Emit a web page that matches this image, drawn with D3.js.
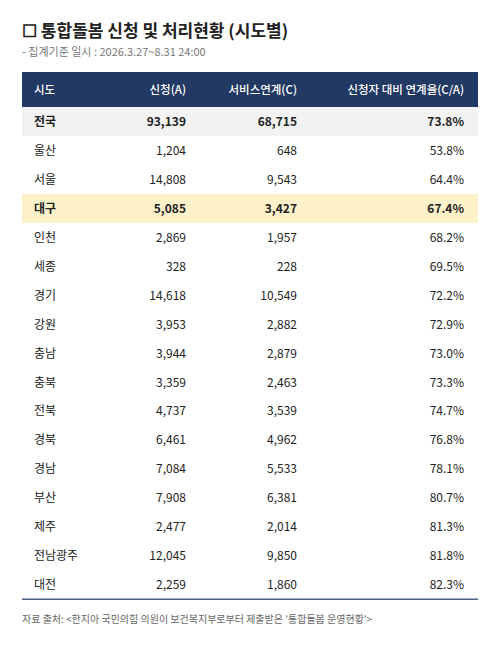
<!DOCTYPE html><html><head><meta charset="utf-8"><script src="https://cdn.jsdelivr.net/npm/d3@7"></script>
<style>body{margin:0;background:#fff}</style></head><body><svg id="c" width="500" height="649"></svg>
<script>
const headers=["시도","신청(A)","서비스연계(C)","신청자 대비 연계율(C/A)"];
const regions=["전국","울산","서울","대구","인천","세종","경기","강원","충남","충북","전북","경북","경남","부산","제주","전남광주","대전"];
const applied=[93139,1204,14808,5085,2869,328,14618,3953,3944,3359,4737,6461,7084,7908,2477,12045,2259];
const linked=[68715,648,9543,3427,1957,228,10549,2882,2879,2463,3539,4962,5533,6381,2014,9850,1860];
const rates=[73.8,53.8,64.4,67.4,68.2,69.5,72.2,72.9,73.0,73.3,74.7,76.8,78.1,80.7,81.3,81.8,82.3];
const svg=d3.select("#c"),F="'Noto Sans CJK KR','Noto Sans',sans-serif";
svg.append("text").attr("x",22).attr("y",37).attr("font-family",F).attr("font-size",17).attr("font-weight",700).attr("fill","#222").text("☐ 통합돌봄 신청 및 처리현황 (시도별)");
svg.append("text").attr("x",22).attr("y",56).attr("font-family",F).attr("font-size",11).attr("fill","#777").text("- 집계기준 일시 : 2026.3.27~8.31 24:00");
const L=22,R=478,hy=72,hh=35,rh=28.95;
const y=d3.scaleBand().domain(regions).range([hy+hh,hy+hh+rh*regions.length]);
svg.append("rect").attr("x",L).attr("y",hy).attr("width",R-L).attr("height",hh).attr("fill","#213963");
const cx=[34,186,297,464],anc=["start","end","end","end"];
headers.forEach((h,i)=>svg.append("text").attr("x",cx[i]).attr("y",hy+hh/2+4).attr("text-anchor",anc[i]).attr("font-family",F).attr("font-size",11.5).attr("font-weight",500).attr("fill","#fff").text(h));
const fmt=d3.format(",");
const g=svg.selectAll("g.r").data(regions).join("g").attr("transform",d=>`translate(0,${y(d)})`);
g.append("rect").attr("x",L).attr("width",R-L).attr("height",y.bandwidth()).attr("fill",(d,i)=>i==0?"#f2f2f2":d=="대구"?"#fdf1c9":"none");
g.each(function(d,i){const s=d3.select(this),b=(i==0||d=="大구"||d=="대구");
 [d,fmt(applied[i]),fmt(linked[i]),rates[i].toFixed(1)+"%"].forEach((t,j)=>s.append("text").attr("x",cx[j]).attr("y",y.bandwidth()/2+4.5).attr("text-anchor",anc[j]).attr("font-family",F).attr("font-size",12).attr("font-weight",b?700:400).attr("fill","#222").text(t));});
const yb=hy+hh+rh*regions.length;
svg.append("line").attr("x1",L).attr("x2",R).attr("y1",yb).attr("y2",yb).attr("stroke","#4a6186").attr("stroke-width",1.5);
svg.append("text").attr("x",22).attr("y",623).attr("font-family",F).attr("font-size",10).attr("fill","#666").text("자료 출처: <한지아 국민의힘 의원이 보건복지부로부터 제출받은 '통합돌봄 운영현황'>");
</script></body></html>
